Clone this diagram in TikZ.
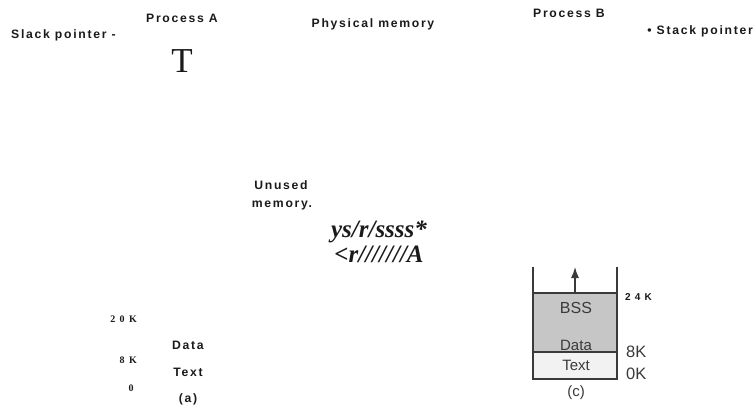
\documentclass[tikz,border=0pt]{standalone}
\usepackage{fontspec}
\setmainfont{Liberation Serif}
\setsansfont{Liberation Sans}
\usetikzlibrary{arrows.meta}
\newfontfamily\spaced[LetterSpace=14]{Liberation Sans}
\newfontfamily\spacedserif[LetterSpace=18]{Liberation Serif}
\definecolor{ink}{HTML}{1A1A1A}
\definecolor{scan}{HTML}{3A3A3A}
\tikzset{
  lbl/.style={inner sep=0pt, text=ink, font=\spaced\bfseries\fontsize{12.2}{14}\selectfont},
  serifbig/.style={inner sep=0pt, text=ink, font=\rmfamily\fontsize{35}{36}\selectfont},
  scrib/.style={inner sep=0pt, text=ink, font=\rmfamily\bfseries\itshape\fontsize{25}{26}\selectfont},
  tick/.style={inner sep=0pt, text=ink, font=\spacedserif\bfseries\fontsize{10}{11}\selectfont},
  seg/.style={inner sep=0pt, text=scan, font=\sffamily\fontsize{15}{16}\selectfont},
  kb/.style={inner sep=0pt, text=scan, font=\sffamily\fontsize{16.5}{18}\selectfont},
  boxline/.style={draw=scan, line width=1.2pt},
}
\begin{document}
\begin{tikzpicture}[x=1pt,y=-1pt]
\useasboundingbox (0,0) rectangle (755,405);
% headings
\node[lbl] (procA) at (182,18) {Process A};
\node[lbl, anchor=west] (slack) at (11,35) {Slack pointer -};
\node[serifbig] (T) at (182,61) {T};
\node[lbl] (phys) at (373,24) {Physical memory};
\node[lbl] (procB) at (569,13) {Process B};
\node[lbl, anchor=east] (stackB) at (753,31) {\textbullet\ Stack pointer};
% middle
\node[lbl] (unused1) at (281,185) {Unused};
\node[lbl] (unused2) at (282,205) {memory.};
\node[scrib] (scr1) at (379,232) {ys/r/ssss*};
\node[scrib] (scr2) at (379,254) {<r///////A};
% (a) labels
\node[tick, anchor=east] (k20) at (137,319) {2 0 K};
\node[lbl] (dataA) at (188,345) {Data};
\node[tick, anchor=east] (k8) at (137,360) {8 K};
\node[tick] (k0) at (131,388) {0};
\node[lbl] (textA) at (188,372) {Text};
\node[lbl] (capA) at (188,399) {(a)};
% (c) memory layout
\coordinate (tl) at (533,267);
\coordinate (tr) at (617,267);
\coordinate (bssl) at (533,293);
\coordinate (bssr) at (617,293);
\coordinate (midl) at (533,352);
\coordinate (midr) at (617,352);
\coordinate (bl) at (533,379);
\coordinate (br) at (617,379);
\fill[gray!45] (bssl) rectangle (midr);
\fill[gray!10] (midl) rectangle (br);
\draw[boxline] (tl) -- (bl) -- (br) -- (tr);
\draw[boxline] (bssl) -- (bssr);
\draw[boxline] (midl) -- (midr);
\coordinate (arrB) at (575,293);
\coordinate (arrT) at (575,267);
\draw[boxline, -{Latex[length=11pt,width=8pt]}] (arrB) -- (arrT);
\node[seg, font=\sffamily\fontsize{16}{17}\selectfont] (bss) at (576,308) {BSS};
\node[seg] (dataC) at (576,345) {Data};
\node[seg] (textC) at (576,365) {Text};
\node[inner sep=0pt, text=ink, font=\spaced\bfseries\fontsize{10}{11}\selectfont, anchor=west] (k24) at (625,297) {2 4 K};
\node[kb, anchor=west] (k8c) at (626,352) {8K};
\node[kb, anchor=west] (k0c) at (626,374) {0K};
\node[seg] (capC) at (576,393) {(c)};
\end{tikzpicture}
\end{document}
